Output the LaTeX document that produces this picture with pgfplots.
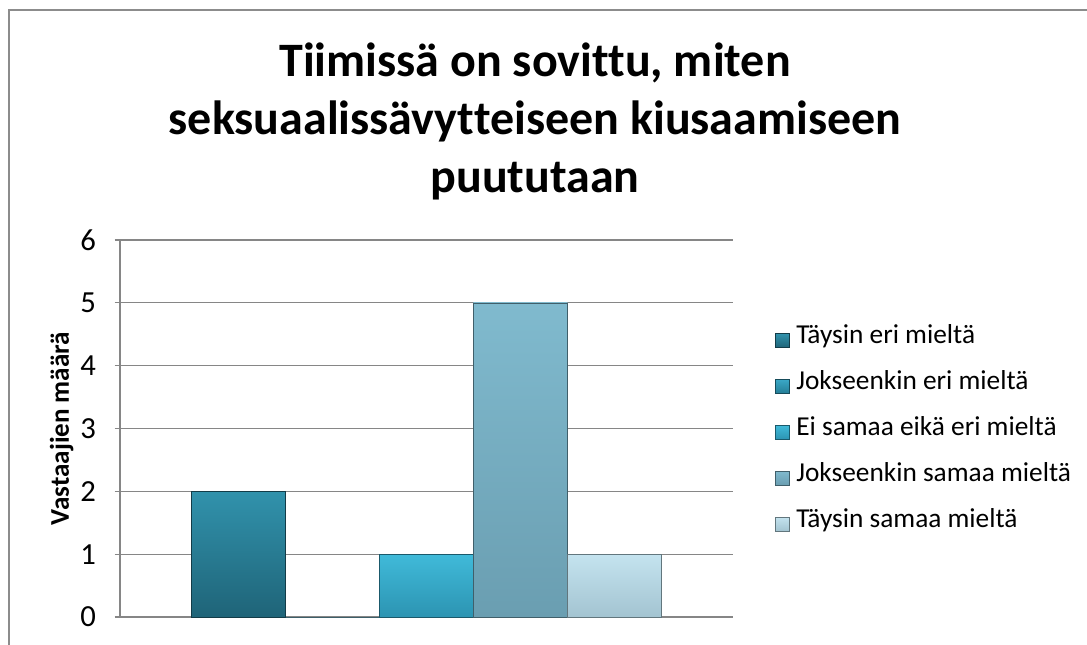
\documentclass[border=0pt]{standalone}
\usepackage{fontspec}
\setmainfont{Carlito}[Ligatures=CommonOff]
\usepackage{pgfplots}
\pgfplotsset{compat=1.18}

\definecolor{gridgray}{HTML}{868686}
\definecolor{frame}{HTML}{8C8C8C}
\definecolor{cAt}{HTML}{3192AC}
\definecolor{cAb}{HTML}{1F6478}
\definecolor{cBt}{HTML}{3AA8C6}
\definecolor{cBb}{HTML}{247D96}
\definecolor{cCt}{HTML}{40BAD9}
\definecolor{cCb}{HTML}{2C94B2}
\definecolor{cDt}{HTML}{80BACE}
\definecolor{cDb}{HTML}{6A9EB1}
\definecolor{cEt}{HTML}{C4E3EF}
\definecolor{cEb}{HTML}{A3C4D1}

\begin{document}
\begin{tikzpicture}[x=0.75pt,y=0.75pt]
\useasboundingbox (0,0) rectangle (1087,644);
% chart frame (only left and top edges are visible)
\draw[frame,line width=1.5pt] (9,-5) -- (9,634) -- (1095,634);

\node[font=\bfseries\fontsize{36}{43.5}\selectfont,align=center,anchor=north] at (535,606)
  {Tiimissä on sovittu, miten\\seksuaalissävytteiseen kiusaamiseen\\puututaan};

\coordinate (plotorigin) at (120,27);
\begin{axis}[
  at={(plotorigin)}, anchor=south west,
  scale only axis,
  width=459.75pt, height=282.75pt,
  xmin=-0.5, xmax=0.5,
  ymin=0, ymax=6,
  ytick={0,1,2,3,4,5,6},
  xtick=\empty,
  ymajorgrids,
  grid style={gridgray,line width=0.9pt},
  axis x line*=bottom, axis y line*=left,
  axis line style={gridgray,line width=0.9pt},
  y axis line style={-},
  x axis line style={-},
  major tick length=4pt,
  tick align=outside,
  tick style={gridgray,line width=0.9pt},
  yticklabel={\fontsize{23}{26}\selectfont\pgfmathprintnumber{\tick}},
  yticklabel style={xshift=-10.5pt},
  /pgf/number format/assume math mode=true,
  ylabel={Vastaajien määrä},
  every axis y label/.style={at={(axis description cs:-0.095,0.5)},rotate=90,anchor=center,
    font=\bfseries\fontsize{20.3}{24}\selectfont},
  ybar=0pt,
  bar width=0.1533,
  legend cell align=left,
  legend style={draw=none,fill=none,at={(1.068,0.49)},anchor=west,
    font=\fontsize{20.5}{24}\selectfont,row sep=23pt,column sep=4pt,inner sep=0pt,
    nodes={inner sep=1pt,text height=0.72em,text depth=0.22em}},
  legend image code/.code={\draw[#1,line width=0.5pt] (0pt,-5.25pt) rectangle (10.5pt,5.25pt);},
]
\addplot[draw=cAb!60!black,top color=cAt,bottom color=cAb] coordinates {(0,2)};
\addplot[draw=cBb!60!black,top color=cBt,bottom color=cBb] coordinates {(0,0)};
\addplot[draw=cCb!60!black,top color=cCt,bottom color=cCb] coordinates {(0,1)};
\addplot[draw=cDb!60!black,top color=cDt,bottom color=cDb] coordinates {(0,5)};
\addplot[draw=cEb!60!black,top color=cEt,bottom color=cEb] coordinates {(0,1)};
\legend{Täysin eri mieltä,Jokseenkin eri mieltä,Ei samaa eikä eri mieltä,Jokseenkin samaa mieltä,Täysin samaa mieltä}
\end{axis}
\end{tikzpicture}
\end{document}
